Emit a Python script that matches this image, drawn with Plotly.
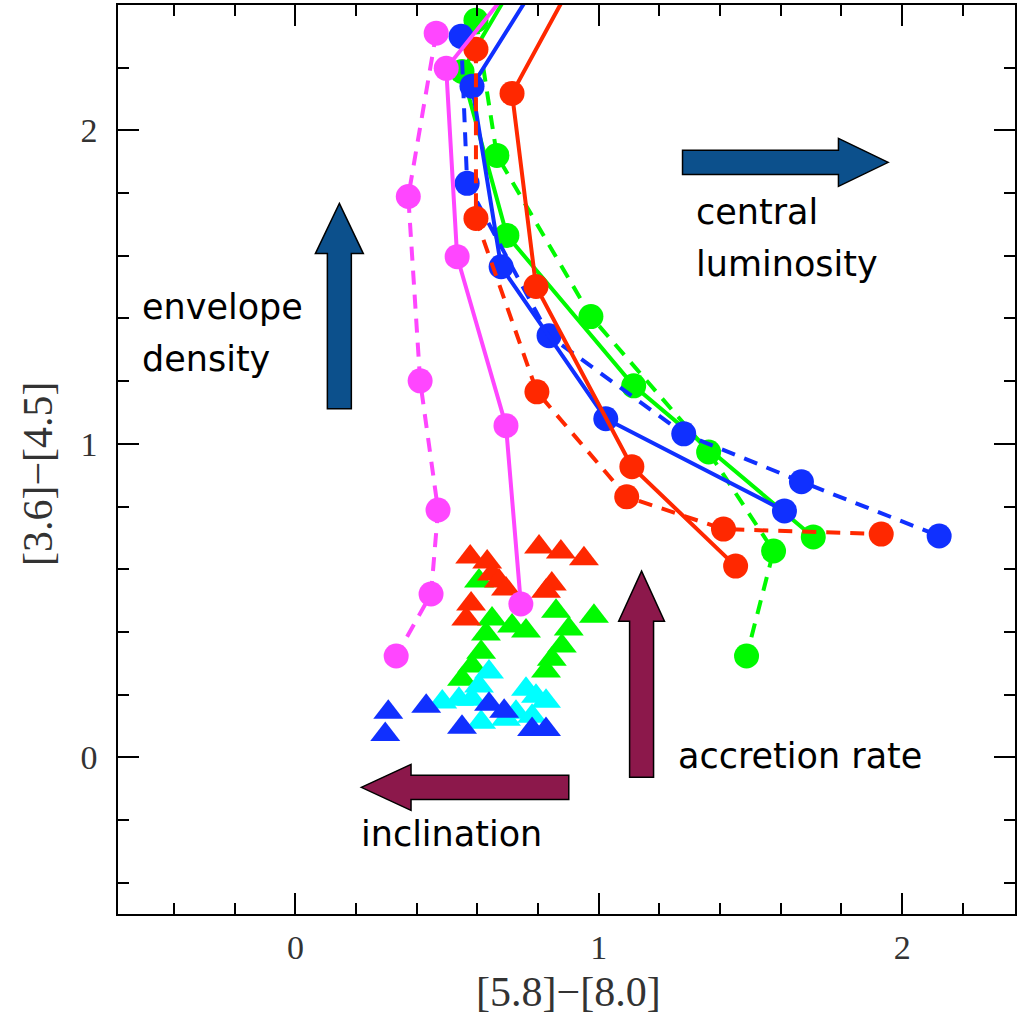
import plotly.graph_objects as go

# ---------------- data ----------------
# model tracks: solid / dashed per colour (first solid point lies above the frame)
red_solid_x = [0.985, 0.714, 0.793, 1.109, 1.451]
red_solid_y = [2.600, 2.118, 1.502, 0.927, 0.610]
red_dash_x = [0.595, 0.595, 0.796, 1.092, 1.411, 1.931]
red_dash_y = [2.259, 1.719, 1.166, 0.831, 0.728, 0.712]

blue_solid_x = [0.880, 0.582, 0.678, 1.023, 1.612]
blue_solid_y = [2.600, 2.141, 1.565, 1.080, 0.786]
blue_dash_x = [0.546, 0.566, 0.836, 1.280, 1.668, 2.122]
blue_dash_y = [2.300, 1.831, 1.345, 1.032, 0.879, 0.706]

green_solid_x = [0.800, 0.549, 0.697, 1.115, 1.707]
green_solid_y = [2.600, 2.188, 1.665, 1.185, 0.703]
green_dash_x = [0.595, 0.664, 0.974, 1.362, 1.576, 1.487]
green_dash_y = [2.351, 1.920, 1.406, 0.974, 0.658, 0.323]

mag_solid_x = [0.830, 0.497, 0.533, 0.694, 0.743]
mag_solid_y = [2.600, 2.198, 1.597, 1.058, 0.489]
mag_dash_x = [0.464, 0.372, 0.411, 0.470, 0.447, 0.332]
mag_dash_y = [2.310, 1.789, 1.201, 0.789, 0.521, 0.323]

# observed sources (triangles)
tri_green_x = [0.605, 0.648, 0.714, 0.760, 0.859, 0.984, 0.901, 0.878, 0.845, 0.826,
               0.628, 0.612, 0.582, 0.549]
tri_green_y = [0.562, 0.441, 0.419, 0.403, 0.466, 0.450, 0.409, 0.355, 0.313, 0.275,
               0.393, 0.335, 0.291, 0.249]
tri_cyan_x = [0.638, 0.605, 0.484, 0.539, 0.582, 0.612, 0.760, 0.793, 0.826, 0.727,
              0.780, 0.694]
tri_cyan_y = [0.272, 0.227, 0.176, 0.185, 0.185, 0.112, 0.217, 0.195, 0.179, 0.144,
              0.131, 0.121]
tri_blue_x = [0.306, 0.296, 0.431, 0.549, 0.638, 0.780, 0.826, 0.688]
tri_blue_y = [0.144, 0.073, 0.163, 0.096, 0.169, 0.089, 0.089, 0.147]
tri_red_x = [0.576, 0.632, 0.803, 0.875, 0.951, 0.648, 0.671, 0.694, 0.845, 0.826,
             0.579, 0.563]
tri_red_y = [0.639, 0.623, 0.671, 0.655, 0.633, 0.585, 0.562, 0.537, 0.553, 0.530,
             0.489, 0.441]

x_ticks = [0, 1, 2]
y_ticks = [0, 1, 2]
x_title = "[5.8]\u2212[8.0]"
y_title = "[3.6]\u2212[4.5]"

# ---------------- styling ----------------
RED = "rgb(255,40,0)"
BLUE = "rgb(16,48,255)"
GREEN = "rgb(0,250,0)"
MAG = "rgb(255,70,255)"
CYAN = "rgb(0,255,255)"
ARROW_BLUE = "rgb(12,80,140)"
ARROW_RED = "rgb(140,24,75)"
DASH = "14px,10px"

fig = go.Figure()

def tri(x, y, color):
    fig.add_trace(go.Scatter(x=x, y=y, mode="markers",
                             marker=dict(symbol="triangle-up", size=26, color=color,
                                         line=dict(width=0)),
                             showlegend=False, hoverinfo="skip"))

tri(tri_green_x, tri_green_y, GREEN)
tri(tri_cyan_x, tri_cyan_y, CYAN)
tri(tri_blue_x, tri_blue_y, BLUE)
tri(tri_red_x, tri_red_y, RED)

def track(x, y, color, dash):
    fig.add_trace(go.Scatter(x=x, y=y, mode="lines+markers",
                             line=dict(color=color, width=4, dash=dash),
                             marker=dict(symbol="circle", size=25, color=color,
                                         line=dict(width=0)),
                             showlegend=False, hoverinfo="skip"))

track(green_dash_x, green_dash_y, GREEN, DASH)
track(green_solid_x, green_solid_y, GREEN, "solid")
track(blue_dash_x, blue_dash_y, BLUE, DASH)
track(blue_solid_x, blue_solid_y, BLUE, "solid")
track(red_dash_x, red_dash_y, RED, DASH)
track(red_solid_x, red_solid_y, RED, "solid")
track(mag_dash_x, mag_dash_y, MAG, DASH)
track(mag_solid_x, mag_solid_y, MAG, "solid")

# ---------------- block arrows (decoration) ----------------
def arrow_path(tx, ty, direction, length, shaft, head_w, head_l):
    # direction: 'up', 'right', 'left'; shaft/head_w measured across, head_l along
    if direction == "up":
        hb = ty - head_l
        base = ty - length
        pts = [(tx, ty), (tx + head_w / 2, hb), (tx + shaft / 2, hb), (tx + shaft / 2, base),
               (tx - shaft / 2, base), (tx - shaft / 2, hb), (tx - head_w / 2, hb)]
    else:
        s = 1 if direction == "right" else -1
        hb = tx - s * head_l
        base = tx - s * length
        pts = [(tx, ty), (hb, ty + head_w / 2), (hb, ty + shaft / 2), (base, ty + shaft / 2),
               (base, ty - shaft / 2), (hb, ty - shaft / 2), (hb, ty - head_w / 2)]
    return "M " + " L ".join(f"{a:.4f},{b:.4f}" for a, b in pts) + " Z"

arrows = [
    (0.1447, 1.767, "up", 0.655, 0.079, 0.158, 0.160, ARROW_BLUE),
    (1.954, 1.898, "right", 0.678, 0.077, 0.153, 0.164, ARROW_BLUE),
    (1.141, 0.594, "up", 0.658, 0.079, 0.151, 0.160, ARROW_RED),
    (0.217, -0.096, "left", 0.684, 0.077, 0.147, 0.164, ARROW_RED),
]
for tx, ty, d, L, sw, hw, hl, col in arrows:
    fig.add_shape(type="path", path=arrow_path(tx, ty, d, L, sw, hw, hl),
                  xref="x", yref="y", fillcolor=col,
                  line=dict(color="black", width=1.5), layer="above")

TXT = dict(family="DejaVu Sans", size=35, color="black")
labels = [
    ("central", 1.3125, 1.741),
    ("luminosity", 1.3125, 1.575),
    ("envelope", -0.513, 1.438),
    ("density", -0.513, 1.272),
    ("accretion rate", 1.253, 0.003),
    ("inclination", 0.2105, -0.246),
]
for t, x, y in labels:
    fig.add_annotation(text=t, x=x, y=y, xref="x", yref="y", xanchor="left",
                       yanchor="middle", showarrow=False, font=TXT)

AX_FONT = dict(family="Liberation Serif", size=34, color="#333333")
fig.add_annotation(text=x_title, x=0.901, y=-0.086, xref="x", yref="paper",
                   xanchor="center", yanchor="middle", showarrow=False,
                   font=dict(family="Liberation Serif", size=42, color="#333333"))
fig.add_annotation(text=y_title, x=-0.089, y=0.904, xref="paper", yref="y",
                   xanchor="center", yanchor="middle", showarrow=False, textangle=-90,
                   font=dict(family="Liberation Serif", size=42, color="#333333"))

axis_common = dict(showgrid=False, zeroline=False, showline=True, linecolor="black",
                   linewidth=1.5, mirror="ticks", ticks="inside", ticklen=21,
                   tickwidth=1.5, tickcolor="black", tickfont=AX_FONT,
                   minor=dict(dtick=0.2, ticks="inside", ticklen=11, tickwidth=1.5,
                              tickcolor="black", showgrid=False))

fig.update_xaxes(range=[-0.585, 2.372], tickvals=x_ticks, ticklabelstandoff=2,
                 **axis_common)
fig.update_yaxes(range=[-0.5, 2.4], tickvals=y_ticks, ticklabelstandoff=12,
                 **axis_common)

fig.update_layout(width=1017, height=1016, margin=dict(l=118, r=0, t=5, b=102),
                  paper_bgcolor="white", plot_bgcolor="white", showlegend=False)

fig.write_html("out.html")
